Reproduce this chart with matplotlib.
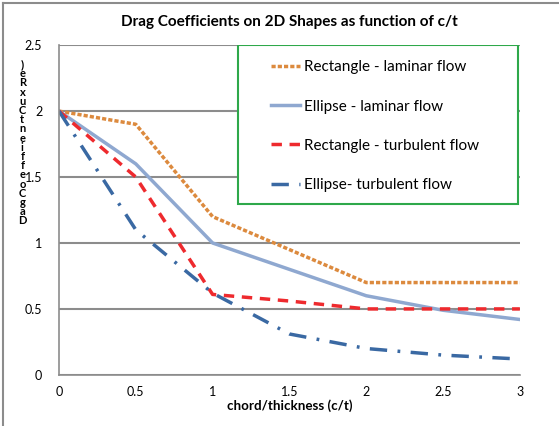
import matplotlib.pyplot as plt
from matplotlib.lines import Line2D
from matplotlib.patches import Rectangle

plt.rcParams['font.family'] = ['Lato', 'DejaVu Sans']

ct = [0, 0.5, 1, 1.5, 2, 2.5, 3]
rect_lam = [2.0, 1.9, 1.2, 0.95, 0.7, 0.7, 0.7]
ell_lam = [2.0, 1.6, 1.0, 0.8, 0.6, 0.49, 0.42]
rect_turb = [2.0, 1.5, 0.61, 0.56, 0.5, 0.5, 0.5]
ell_turb = [2.0, 1.1, 0.62, 0.31, 0.2, 0.15, 0.12]
xticks = [0, 0.5, 1, 1.5, 2, 2.5, 3]
yticks = [0, 0.5, 1, 1.5, 2, 2.5]

fig = plt.figure(figsize=(5.59, 4.26), dpi=100)
ax = fig.add_axes([0.1055, 0.12, 0.8245, 0.774])

ax.plot(ct, rect_lam, color='#DC8A3E', lw=2.5, ls=(0, (1.2, 0.6)), label='Rectangle - laminar flow')
ax.plot(ct, ell_lam, color='#8FA8D0', lw=2.5, label='Ellipse - laminar flow')
ax.plot(ct, rect_turb, color='#EE2A2E', lw=2.5, ls=(0, (3, 2.2)), label='Rectangle - turbulent flow')
ax.plot(ct, ell_turb, color='#3A69A3', lw=2.5, ls=(0, (5, 3, 0.8, 3)), label='Ellipse- turbulent flow')

ax.set_xlim(0, 3)
ax.set_ylim(0, 2.5)
ax.set_xticks(xticks)
ax.set_xticklabels(['0', '0.5', '1', '1.5', '2', '2.5', '3'])
ax.set_yticks(yticks)
ax.set_yticklabels(['0', '0.5', '1', '1.5', '2', '2.5'])
ax.tick_params(labelsize=9, length=0, pad=8)
ax.tick_params(axis='y', pad=12)
ax.grid(axis='y', color='#8C8C8C', lw=1.5)
ax.set_axisbelow(True)
for s in ['top', 'right']:
    ax.spines[s].set_visible(False)
for s in ['left', 'bottom']:
    ax.spines[s].set_color('#8C8C8C')
    ax.spines[s].set_linewidth(1.2)

ax.set_title('Drag Coefficients on 2D Shapes as function of c/t', fontsize=11, fontweight='bold', pad=14)
ax.set_xlabel('chord/thickness (c/t)', fontsize=9.6, fontweight='bold', labelpad=1)

# garbled stacked y label as in the original
ylab = list(")eRxuCtneiffeoCgaD")
fig.text(0.04, 0.665, '\n'.join(ylab), fontsize=8, fontweight='bold', ha='center', va='center',
         linespacing=0.8)

box = Rectangle((0.388, 0.518), 0.608, 0.482, transform=ax.transAxes, facecolor='white',
                edgecolor='#2EA84A', lw=1.5, zorder=4)
ax.add_patch(box)
leg = ax.legend(loc='upper left', bbox_to_anchor=(0.46, 0.954), borderaxespad=0, borderpad=0,
                fontsize=11, labelspacing=1.65, handlelength=1.9, handletextpad=0.25,
                frameon=False)
leg.set_zorder(5)

fig.add_artist(Line2D([3 / 559, 1], [1 - 3 / 426, 1 - 3 / 426], color='#8C8C8C', lw=1.5))
fig.add_artist(Line2D([3 / 559, 3 / 559], [0, 1 - 3 / 426], color='#8C8C8C', lw=1.5))

fig.savefig('out.png', dpi=100)
